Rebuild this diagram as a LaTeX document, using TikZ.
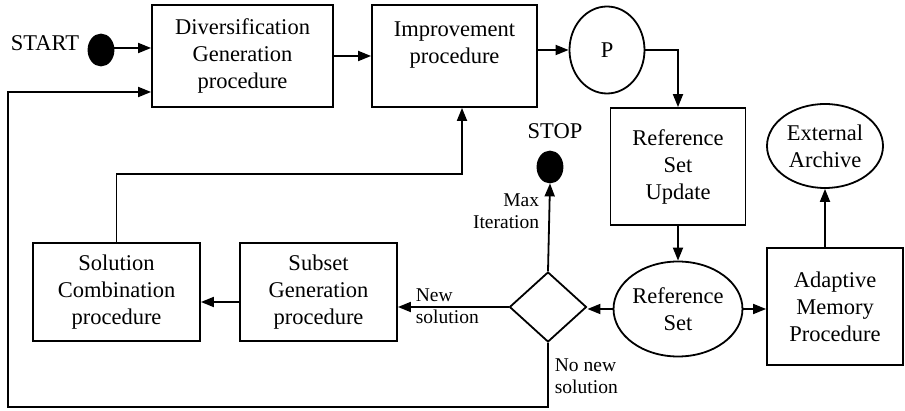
\documentclass[tikz,border=0pt]{standalone}
\usepackage{fontspec}
\setmainfont{Liberation Serif}
\usetikzlibrary{shapes.geometric,arrows.meta}
\newcommand\bigsz{\fontsize{22.5}{27}\selectfont}
\newcommand\smallsz{\fontsize{19.5}{21.5}\selectfont}
\begin{document}
\begin{tikzpicture}[x=1pt,y=-1pt,line width=1.8pt,
  box/.style={draw,rectangle,inner sep=0pt,align=center,font=\bigsz},
  oval/.style={draw,ellipse,inner sep=0pt,align=center,font=\bigsz},
  dot/.style={fill=black,draw=black,ellipse,inner sep=0pt,minimum width=25pt,minimum height=31pt},
  txt/.style={inner sep=0pt,align=center,font=\bigsz},
  lbl/.style={inner sep=0pt,font=\smallsz},
  arr/.style={-{Triangle[length=13pt,width=10pt]}}]
\useasboundingbox (0,0) rectangle (905,411);
% nodes
\node[txt] (starttxt) at (45,43) {START};
\node[dot] (start) at (101,50) {};
\node[box,minimum width=181pt,minimum height=102pt] (div) at (242.5,56) {Diversification\\Generation\\procedure};
\node[box,minimum width=165pt,minimum height=102pt] (imp) at (454.5,56) {};
\node[txt] (imptxt) at (454.5,45) {Improvement\\procedure};
\node[oval,minimum width=75pt,minimum height=87pt] (P) at (607,50) {P};
\node[box,minimum width=135pt,minimum height=117pt] (rsu) at (678,166.5) {Reference\\Set\\Update};
\node[oval,minimum width=117pt,minimum height=95pt] (rs) at (678,309) {Reference\\Set};
\node[oval,minimum width=116pt,minimum height=84pt] (ea) at (825,146) {External\\Archive};
\node[box,minimum width=136pt,minimum height=117pt] (amp) at (835,306.5) {Adaptive\\Memory\\Procedure};
\node[draw,diamond,inner sep=0pt,minimum width=77pt,minimum height=70pt] (dec) at (548,307) {};
\node[txt] (stoptxt) at (555,131) {STOP};
\node[dot] (stop) at (550,167) {};
\node[box,minimum width=157pt,minimum height=98pt] (sub) at (318.5,292) {Subset\\Generation\\procedure};
\node[box,minimum width=167pt,minimum height=98pt] (comb) at (116.5,292) {Solution\\Combination\\procedure};
% labels
\node[lbl,align=right,anchor=east] (maxit) at (540,211) {Max\\Iteration};
\node[lbl,align=left,anchor=west] (newsol) at (415,306) {New\\solution};
\node[lbl,align=left,anchor=west] (nonew) at (554,376) {No new\\solution};
% helper coordinates
\coordinate (j1) at (462,174);
\coordinate (bl) at (8,407);
\coordinate (lt) at (8,92);
% connectors
\draw[arr] ([yshift=2pt]start.east) -- ([yshift=2pt]start.east -| div.west);
\draw[arr] (div.east) -- (imp.west);
\draw[arr] (P.west -| imp.east) -- (P.west);
\draw[arr] (P.east) -| (rsu.north);
\draw[arr] (rsu.south) -- (rs.north);
\draw[arr] (rs.west) -- (rs.west -| dec.east);
\draw[arr] (rs.east) -- (rs.east -| amp.west);
\draw[arr] (amp.north -| ea.south) -- (ea.south);
\draw[arr] (dec.north) -- (stop.south);
\draw[arr] (dec.west) -- (dec.west -| sub.east);
\draw[arr] ([yshift=-10pt]sub.west) -- ([yshift=-10pt]comb.east);
\draw[arr] (comb.north) |- (j1) -- (j1 |- imp.south);
\draw[arr] (dec.south) |- (bl) -- (lt) -- (lt -| div.west);
\end{tikzpicture}
\end{document}
